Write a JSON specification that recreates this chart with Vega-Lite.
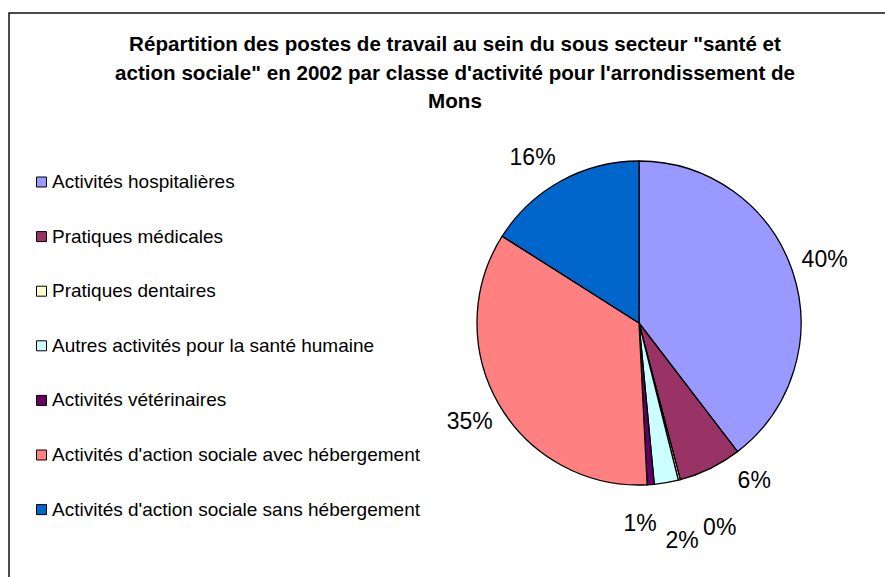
{
  "$schema": "https://vega.github.io/schema/vega-lite/v6.json",
  "autosize": {"type": "none"},
  "width": 876,
  "height": 564,
  "padding": {"left": 9, "top": 13, "right": 0, "bottom": 0},
  "background": "white",
  "view": {"stroke": "#111", "strokeWidth": 1.5, "strokeDash": [876, 1440, 564]},
  "config": {
    "font": "Liberation Sans"
  },
  "title": {
    "text": ["Répartition des postes de travail au sein du sous secteur \"santé et", "action sociale\" en 2002 par classe d'activité pour l'arrondissement de", "Mons"],
    "font": "Liberation Sans",
    "fontSize": 20.6,
    "fontWeight": "bold",
    "color": "#000",
    "lineHeight": 28.5,
    "anchor": "start",
    "frame": "group",
    "dx": 446,
    "align": "center",
    "offset": -100
  },
  "data": {
    "values": [
      {"cat": "Activités hospitalières", "value": 39.6, "label": "40%", "ord": 1},
      {"cat": "Pratiques médicales", "value": 6.3, "label": "6%", "ord": 2},
      {"cat": "Pratiques dentaires", "value": 0.2, "label": "0%", "ord": 3},
      {"cat": "Autres activités pour la santé humaine", "value": 2.4, "label": "2%", "ord": 4},
      {"cat": "Activités vétérinaires", "value": 0.7, "label": "1%", "ord": 5},
      {"cat": "Activités d'action sociale avec hébergement", "value": 34.8, "label": "35%", "ord": 6},
      {"cat": "Activités d'action sociale sans hébergement", "value": 16.0, "label": "16%", "ord": 7}
    ]
  },
  "encoding": {
    "theta": {"field": "value", "type": "quantitative", "stack": true},
    "order": {"field": "ord", "type": "quantitative"}
  },
  "layer": [
    {
      "mark": {"type": "arc", "outerRadius": 162, "x": 630, "y": 310, "stroke": "#000", "strokeWidth": 1.3},
      "encoding": {
        "color": {
          "field": "cat",
          "type": "nominal",
          "scale": {
            "domain": ["Activités hospitalières", "Pratiques médicales", "Pratiques dentaires", "Autres activités pour la santé humaine", "Activités vétérinaires", "Activités d'action sociale avec hébergement", "Activités d'action sociale sans hébergement"],
            "range": ["#9999FF", "#993366", "#FFFFCC", "#CCFFFF", "#660066", "#FF8080", "#0066CC"]
          },
          "legend": {
            "title": null,
            "orient": "none",
            "legendX": 23,
            "legendY": 159.5,
            "padding": 0,
            "symbolType": "square",
            "symbolSize": 100,
            "symbolStrokeColor": "#000",
            "symbolStrokeWidth": 1,
            "symbolOpacity": 1,
            "labelFont": "Liberation Sans",
            "labelFontSize": 19,
            "labelColor": "#000",
            "labelOffset": 1,
            "labelLimit": 500,
            "rowPadding": 34.6
          }
        }
      }
    },
    {
      "mark": {"type": "text", "radius": 196, "x": 630, "y": 310, "fontSize": 23, "font": "Liberation Sans", "color": "#000"},
      "encoding": {
        "text": {"condition": {"test": "datum.cat === 'Activités hospitalières' || datum.cat === \"Activités d'action sociale avec hébergement\"", "field": "label"}, "value": ""}
      }
    },
    {
      "mark": {"type": "text", "radius": 196, "x": 630, "y": 310, "fontSize": 23, "font": "Liberation Sans", "color": "#000", "dx": -12, "dy": 7},
      "encoding": {
        "text": {"condition": {"test": "datum.cat === \"Activités d'action sociale sans hébergement\"", "field": "label"}, "value": ""}
      }
    },
    {
      "mark": {"type": "text", "radius": 196, "x": 630, "y": 310, "fontSize": 23, "font": "Liberation Sans", "color": "#000", "dx": 29, "dy": -18},
      "encoding": {
        "text": {"condition": {"test": "datum.cat === 'Pratiques médicales'", "field": "label"}, "value": ""}
      }
    },
    {
      "mark": {"type": "text", "radius": 196, "x": 630, "y": 310, "fontSize": 23, "font": "Liberation Sans", "color": "#000", "dx": 32, "dy": 15},
      "encoding": {
        "text": {"condition": {"test": "datum.cat === 'Pratiques dentaires'", "field": "label"}, "value": ""}
      }
    },
    {
      "mark": {"type": "text", "radius": 196, "x": 630, "y": 310, "fontSize": 23, "font": "Liberation Sans", "color": "#000", "dx": 10, "dy": 25},
      "encoding": {
        "text": {"condition": {"test": "datum.cat === 'Autres activités pour la santé humaine'", "field": "label"}, "value": ""}
      }
    },
    {
      "mark": {"type": "text", "radius": 196, "x": 630, "y": 310, "fontSize": 23, "font": "Liberation Sans", "color": "#000", "dx": -13, "dy": 6},
      "encoding": {
        "text": {"condition": {"test": "datum.cat === 'Activités vétérinaires'", "field": "label"}, "value": ""}
      }
    }
  ]
}
